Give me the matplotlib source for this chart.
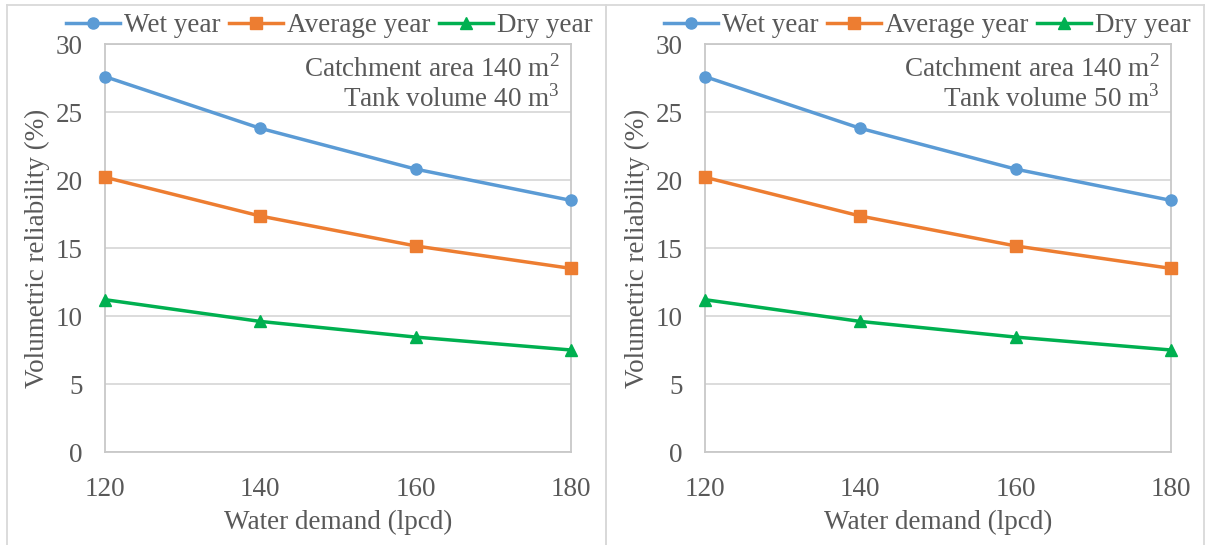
import matplotlib
matplotlib.use("Agg")
import matplotlib.pyplot as plt
from matplotlib.lines import Line2D

plt.rcParams['font.family'] = ['Liberation Serif', 'DejaVu Serif']
plt.rcParams['mathtext.fontset'] = 'custom'
plt.rcParams['mathtext.rm'] = 'Liberation Serif'

demand = [120, 140, 160, 180]
wet_40 = [27.6, 23.8, 20.8, 18.5]
avg_40 = [20.2, 17.35, 15.15, 13.5]
dry_40 = [11.2, 9.6, 8.45, 7.5]
wet_50 = [27.6, 23.8, 20.8, 18.5]
avg_50 = [20.2, 17.35, 15.15, 13.5]
dry_50 = [11.2, 9.6, 8.45, 7.5]
series_names = ["Wet year", "Average year", "Dry year"]
tank_volumes = [40, 50]
catchment = 140
yticks = [0, 5, 10, 15, 20, 25, 30]
xticks = [120, 140, 160, 180]

colors = ["#5B9BD5", "#ED7D31", "#00B050"]
markers = ["o", "s", "^"]
txt = "#595959"
grid = "#D9D9D9"
FS = 19.5

W, H = 1205, 545
fig = plt.figure(figsize=(W / 100, H / 100), dpi=100)

# panel frames
for x0, x1 in [(7, 606), (606, 1204)]:
    fig.add_artist(Line2D([x0 / W, x0 / W], [0, 1 - 5 / H], transform=fig.transFigure, color=grid, lw=1.3))
    fig.add_artist(Line2D([x1 / W, x1 / W], [0, 1 - 5 / H], transform=fig.transFigure, color=grid, lw=1.3))
    fig.add_artist(Line2D([x0 / W, x1 / W], [1 - 5 / H, 1 - 5 / H], transform=fig.transFigure, color=grid, lw=1.3))

panels = [
    (105, 571, [wet_40, avg_40, dry_40], tank_volumes[0], 66),
    (705, 1171, [wet_50, avg_50, dry_50], tank_volumes[1], 664),
]
y_top, y_bot = 44, 452
for (xl, xr, data, tv, legx) in panels:
    ax = fig.add_axes([xl / W, 1 - y_bot / H, (xr - xl) / W, (y_bot - y_top) / H])
    for vals, c, m, name in zip(data, colors, markers, series_names):
        ax.plot(demand, vals, color=c, marker=m, markersize=8 if m != "^" else 9,
                lw=2.5, label=name, clip_on=False, zorder=3)
    ax.set_xlim(120, 180)
    ax.set_ylim(0, 30)
    ax.set_xticks(xticks)
    ax.set_yticks(yticks)
    ax.yaxis.grid(True, color=grid, lw=1.3)
    ax.set_axisbelow(True)
    for s in ax.spines.values():
        s.set_color("#C8C8C8")
        s.set_linewidth(1.3)
    ax.tick_params(length=0, labelsize=FS, colors=txt)
    ax.tick_params(axis='x', pad=18)
    ax.tick_params(axis='y', pad=16)
    ax.set_xlabel("Water demand (lpcd)", fontsize=FS, color=txt, labelpad=6)
    ax.set_ylabel("Volumetric reliability (%)", fontsize=FS, color=txt, labelpad=4)
    ax.text(0.975, 0.94, "Catchment area %d m$^2$" % catchment, transform=ax.transAxes,
            ha="right", va="center", fontsize=FS, color=txt)
    ax.text(0.975, 0.865, "Tank volume %d m$^3$" % tv, transform=ax.transAxes,
            ha="right", va="center", fontsize=FS, color=txt)
    leg = fig.legend(*ax.get_legend_handles_labels(), loc="center left",
                     bbox_to_anchor=(legx / W, 1 - 26 / H), ncol=3, frameon=False,
                     fontsize=FS, handlelength=2.0, handletextpad=0.15, columnspacing=0.3,
                     borderaxespad=0, borderpad=0)
    for t in leg.get_texts():
        t.set_color(txt)

fig.savefig("out.png", dpi=100)
